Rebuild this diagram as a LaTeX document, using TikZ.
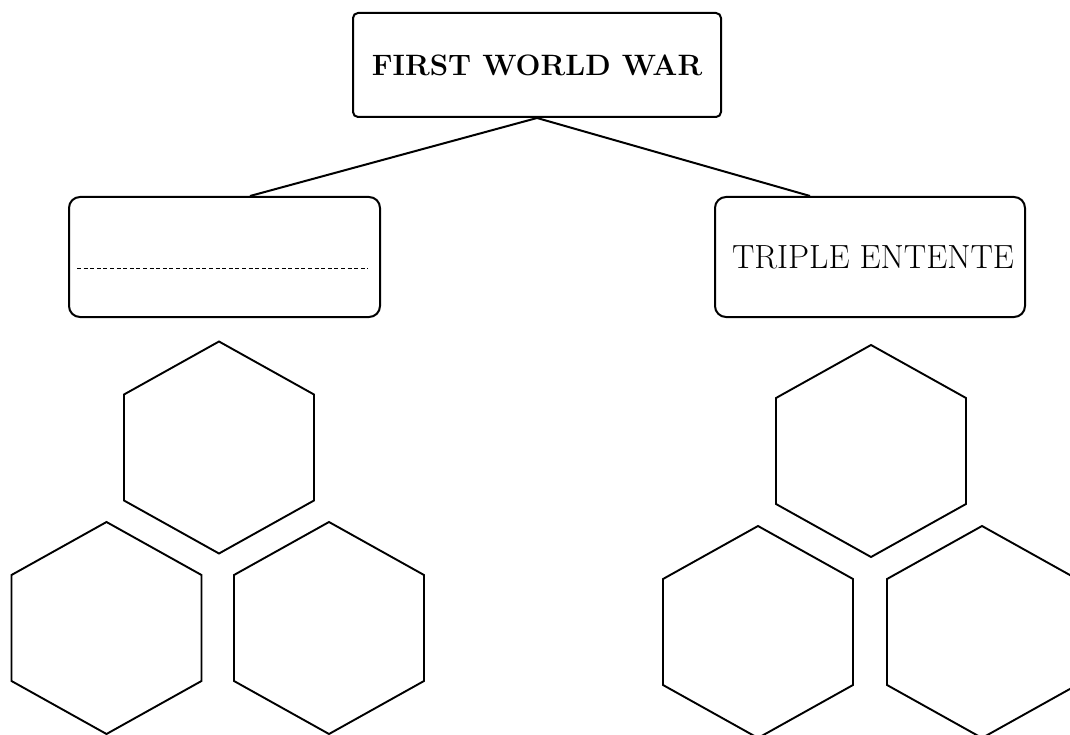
\documentclass[tikz,border=0pt]{standalone}
\usetikzlibrary{calc}
\tikzset{
  box/.style={draw, line width=2pt, rounded corners=#1, inner sep=0pt},
  link/.style={line width=2pt},
  dashline/.style={line width=1pt, dash pattern=on 4pt off 2.6pt},
  hexa/.pic={\draw[line width=1.9pt, line join=miter]
     (0,-106) -- (95,-53) -- (95,53) -- (0,106) -- (-95,53) -- (-95,-53) -- cycle;}
}
\begin{document}
\begin{tikzpicture}[x=1pt,y=-1pt]
\useasboundingbox (0,0) rectangle (1070,735);
\clip (0,0) rectangle (1070,735);
% title box
\node[box=5pt, minimum width=368pt, minimum height=104pt] (top) at (537,65)
  {\raisebox{-1.5pt}{\bfseries\fontsize{29.5}{35}\selectfont FIRST WORLD WAR}};
% left box (blank, dashed line)
\node[box=11pt, minimum width=311pt, minimum height=120pt] (lbox) at (224.5,257) {};
\draw[dashline] ($(lbox.west)+(9,11)$) -- ($(lbox.east)+(-13,11)$);
% right box
\node[box=11pt, minimum width=310pt, minimum height=120pt] (rbox) at (870,257)
  {\hspace*{6pt}\raisebox{-2pt}{\fontsize{33.5}{40}\selectfont TRIPLE ENTENTE}};
% connectors
\coordinate (la) at ($(lbox.north)+(25.5,0)$);
\coordinate (ra) at ($(rbox.north)+(-60,0)$);
\draw[link] (top.south) -- (la);
\draw[link] (top.south) -- (ra);
% hexagons, left group
\pic (hl1) at (219,447.5) {hexa};
\pic (hl2) at (106.5,628) {hexa};
\pic (hl3) at (329,628) {hexa};
% hexagons, right group
\pic (hr1) at (871,451) {hexa};
\pic (hr2) at (758,632) {hexa};
\pic (hr3) at (982,632) {hexa};
\end{tikzpicture}
\end{document}
